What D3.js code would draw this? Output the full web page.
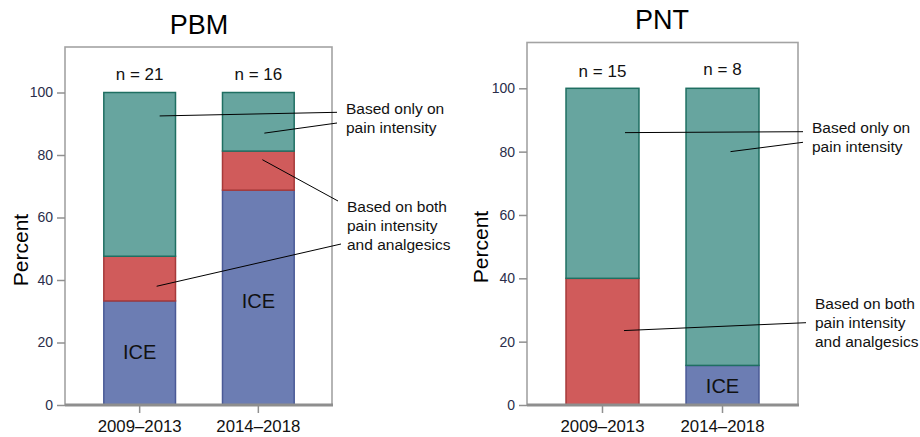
<!DOCTYPE html>
<html><head><meta charset="utf-8">
<script src="https://cdn.jsdelivr.net/npm/d3@7"></script>
<style>body{margin:0;background:#fff}svg{display:block}</style>
</head><body><svg id="c" width="920" height="437"></svg>
<script>
// ---- data ----
const periods = ["2009–2013", "2014–2018"];
const segments = ["ICE", "Both", "Only"];
const pbmN = [21, 16];
const pbmICE = [33.3, 68.75];
const pbmBoth = [14.3, 12.5];
const pbmOnly = [52.4, 18.75];
const pntN = [15, 8];
const pntICE = [0, 12.5];
const pntBoth = [40, 0];
const pntOnly = [60, 87.5];
const yTicks = [0, 20, 40, 60, 80, 100];
const annOnly = ["Based only on", "pain intensity"];
const annBoth = ["Based on both", "pain intensity", "and analgesics"];

const fills = {ICE: "#6c7db3", Both: "#d05b5b", Only: "#67a59f"};
const strokes = {ICE: "#4a5a96", Both: "#a63a3a", Only: "#1f6f62"};
const font = "Liberation Sans, Arial, sans-serif";
const svg = d3.select("#c");

function panel(cfg) {
  const g = svg.append("g");
  const y = d3.scaleLinear().domain([0, 100]).range([cfg.y0, cfg.y100]);
  const x = d3.scaleBand().domain(periods).range([cfg.xL, cfg.xR]).paddingInner(cfg.pi).paddingOuter(cfg.po);
  // frame
  g.append("rect").attr("x", cfg.fx0).attr("y", cfg.fy0).attr("width", cfg.fx1 - cfg.fx0).attr("height", cfg.y0 - cfg.fy0)
    .attr("fill", "none").attr("stroke", "#a3a3a3").attr("stroke-width", 1.6);
  // bars
  const series = {ICE: cfg.ice, Both: cfg.both, Only: cfg.only};
  periods.forEach((p, i) => {
    let acc = 0;
    segments.forEach(s => {
      const v = series[s][i];
      if (v > 0) {
        g.append("rect").attr("x", x(p)).attr("width", x.bandwidth())
          .attr("y", y(acc + v)).attr("height", y(acc) - y(acc + v))
          .attr("fill", fills[s]).attr("stroke", strokes[s]).attr("stroke-width", 1.5);
      }
      acc += v;
    });
  });
  // y axis
  const ya = g.append("g").attr("transform", `translate(${cfg.fx0},0)`)
    .call(d3.axisLeft(y).tickValues(yTicks).tickSize(8).tickPadding(4));
  ya.select(".domain").remove();
  ya.selectAll("line").attr("stroke", "#909090").attr("stroke-width", 1.5);
  ya.selectAll("text").attr("font-family", font).attr("font-size", 14).attr("fill", "#2a2d4a");
  // x axis
  const xa = g.append("g").attr("transform", `translate(0,${cfg.y0})`)
    .call(d3.axisBottom(x).tickSize(8).tickPadding(7));
  xa.select(".domain").remove();
  xa.selectAll("line").attr("stroke", "#909090").attr("stroke-width", 1.5);
  xa.selectAll("text").attr("font-family", font).attr("font-size", 16.8).attr("fill", "#111");
  g.append("line").attr("x1", cfg.fx0).attr("x2", cfg.fx1 + 1).attr("y1", cfg.y0).attr("y2", cfg.y0)
    .attr("stroke", "#8e8e8e").attr("stroke-width", 2.8);
  // title
  g.append("text").attr("x", cfg.titleX).attr("y", cfg.titleY).attr("text-anchor", "middle")
    .attr("font-family", font).attr("font-size", 27).attr("fill", "#000").text(cfg.title);
  // y label
  g.append("text").attr("transform", `translate(${cfg.ylabX},${cfg.ylabY}) rotate(-90)`).attr("text-anchor", "middle")
    .attr("font-family", font).attr("font-size", 21).attr("fill", "#000").text("Percent");
  // n labels
  periods.forEach((p, i) => {
    g.append("text").attr("x", x(p) + x.bandwidth() / 2).attr("y", cfg.nY[i]).attr("text-anchor", "middle")
      .attr("font-family", font).attr("font-size", 17).attr("fill", "#111").text("n = " + cfg.n[i]);
  });
  // ICE labels
  periods.forEach((p, i) => {
    if (cfg.ice[i] > 0) {
      g.append("text").attr("x", x(p) + x.bandwidth() / 2).attr("y", cfg.iceY[i]).attr("text-anchor", "middle")
        .attr("dominant-baseline", "central")
        .attr("font-family", font).attr("font-size", 20).attr("fill", "#111").text("ICE");
    }
  });
  // annotations
  function ann(lines, tx, ty) {
    lines.forEach((t, k) => {
      g.append("text").attr("x", tx).attr("y", ty + k * 19).attr("dominant-baseline", "central")
        .attr("font-family", font).attr("font-size", 15.5).attr("fill", "#111").text(t);
    });
  }
  ann(annOnly, cfg.onlyTx[0], cfg.onlyTx[1]);
  ann(annBoth, cfg.bothTx[0], cfg.bothTx[1]);
  cfg.leaders.forEach(l => {
    g.append("line").attr("x1", x(periods[l[0]]) + x.bandwidth() / 2 + l[1]).attr("y1", y(l[2]))
      .attr("x2", l[3]).attr("y2", l[4]).attr("stroke", "#000").attr("stroke-width", 1);
  });
}

panel({
  title: "PBM", titleX: 199, titleY: 34,
  xL: 65, xR: 333, pi: 0.396, po: 0.327,
  fx0: 65, fx1: 332, fy0: 47, y0: 405, y100: 92.5,
  ice: pbmICE, both: pbmBoth, only: pbmOnly, n: pbmN,
  nY: [80, 80], iceY: [352, 301],
  ylabX: 28, ylabY: 250,
  onlyTx: [346, 108], bothTx: [347, 206],
  leaders: [[0, 20, 92.5, 337, 112.3], [1, 6, 87, 337, 123], [1, 4, 78.5, 338, 201], [0, 17, 38, 341, 244]]
});
panel({
  title: "PNT", titleX: 662, titleY: 29,
  xL: 527, xR: 798, pi: 0.392, po: 0.325,
  fx0: 527, fx1: 798, fy0: 42.5, y0: 405, y100: 88.3,
  ice: pntICE, both: pntBoth, only: pntOnly, n: pntN,
  nY: [77, 75], iceY: [0, 386],
  ylabX: 488, ylabY: 247,
  onlyTx: [812, 127.5], bothTx: [815, 303.5],
  leaders: [[0, 22.5, 86, 803, 131.7], [1, 8, 80, 803, 142.3], [0, 21.5, 23.5, 806, 322.7]]
});
</script></body></html>
